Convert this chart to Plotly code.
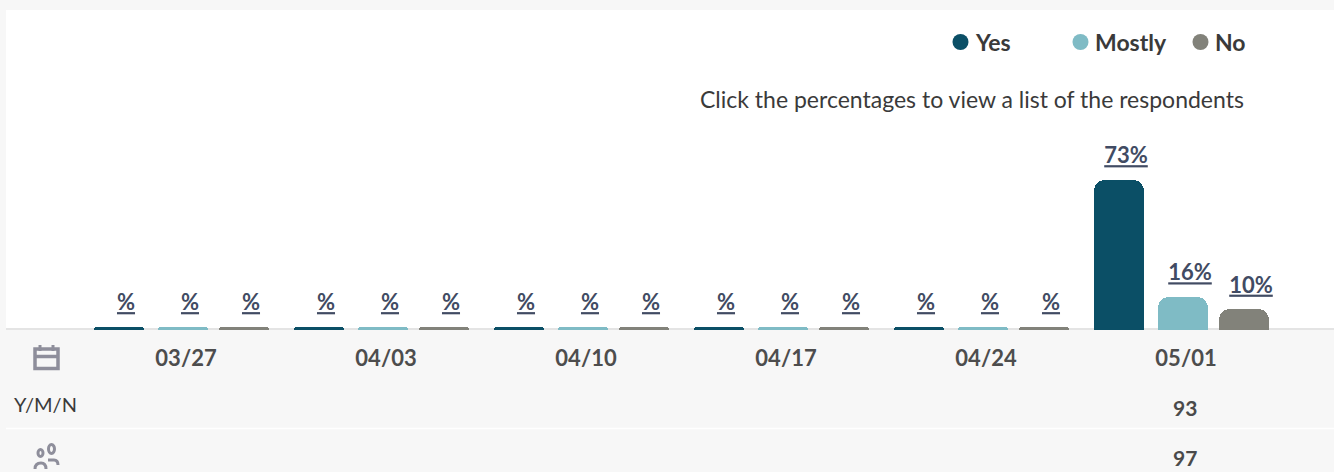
import plotly.graph_objects as go

# ---- data ----
dates = ["03/27", "04/03", "04/10", "04/17", "04/24", "05/01"]
# empty weeks render as thin stubs in the reference
yes_values = [1.5, 1.5, 1.5, 1.5, 1.5, 73]
mostly_values = [1.5, 1.5, 1.5, 1.5, 1.5, 16]
no_values = [1.5, 1.5, 1.5, 1.5, 1.5, 10]
yes_labels = ["%", "%", "%", "%", "%", "73%"]
mostly_labels = ["%", "%", "%", "%", "%", "16%"]
no_labels = ["%", "%", "%", "%", "%", "10%"]
ymn_row = ["", "", "", "", "", "93"]
resp_row = ["", "", "", "", "", "97"]
series_names = ["Yes", "Mostly", "No"]

# ---- style ----
W, H = 1334, 472
L, T, R, B = 6, 10, 1334, 330
COL = ["#0b4f66", "#7fbbc5", "#82827a"]
FONT = "Lato"
TXT = "#3a3a3a"
LINK = "#414b63"
ICON = "#8e8e9b"
bg = "#f7f7f7"


def px(x):
    return (x - L) / (R - L)


def py(y):
    return (B - y) / (B - T)


idx = list(range(len(dates)))
bar_off = [-0.46, -0.14, 0.165]
lab_off = [-0.30, 0.02, 0.325]
vals = [yes_values, mostly_values, no_values]
labs = [yes_labels, mostly_labels, no_labels]

fig = go.Figure()
for name, v, c, o in zip(series_names, vals, COL, bar_off):
    fig.add_bar(
        x=idx, y=v, width=0.25, offset=o, name=name, showlegend=False,
        marker=dict(color=c, cornerradius=11, line=dict(width=0)),
        hoverinfo="skip",
    )
for name, v, t, o in zip(series_names, vals, labs, lab_off):
    fig.add_scatter(
        x=[i + o for i in idx], y=[a + 5.5 for a in v], mode="text",
        text=[f"<u>{s}</u>" for s in t], textposition="top center",
        textfont=dict(family=FONT, size=22, color=LINK, weight=700),
        showlegend=False, cliponaxis=False, hoverinfo="skip",
    )

ann = []
for i, a, b in zip(idx, ymn_row, resp_row):
    for s, y in ((a, 407), (b, 457)):
        if s:
            ann.append(dict(x=i, xref="x", xshift=-1, y=py(y), yref="paper", text=s, showarrow=False,
                            xanchor="center", yanchor="middle",
                            font=dict(family=FONT, size=21, color="#4a4a4a", weight=700)))
ann.append(dict(x=px(12), xref="paper", y=py(404), yref="paper", text="Y/M/N", showarrow=False,
                xanchor="left", yanchor="middle", font=dict(family=FONT, size=20, color=TXT)))
ann.append(dict(x=px(1246), xref="paper", y=py(98.5), yref="paper", showarrow=False,
                text="Click the percentages to view a list of the respondents",
                xanchor="right", yanchor="middle", font=dict(family=FONT, size=23, color=TXT)))

shapes = []
# baseline under the bars
shapes.append(dict(type="line", xref="paper", yref="paper", x0=0, x1=1, y0=py(329), y1=py(329),
                   line=dict(color="#e4e4e4", width=2), layer="below"))
# legend
for name, c, cx, tx in zip(series_names, COL, [960.5, 1080.5, 1200.5], [973, 1093, 1213]):
    shapes.append(dict(type="circle", xref="paper", yref="paper", x0=px(cx - 8), x1=px(cx + 8),
                       y0=py(42 + 8), y1=py(42 - 8), fillcolor=c, line=dict(width=0), layer="above"))
    ann.append(dict(x=px(tx), xref="paper", y=py(42), yref="paper", text=name, showarrow=False,
                    xanchor="left", yanchor="middle",
                    font=dict(family=FONT, size=23, color=TXT, weight=700)))


def P(*pts):
    return " ".join(f"{px(p[0]):.5f},{py(p[1]):.5f}" for p in pts)


# separator between rows
shapes.append(dict(type="line", xref="paper", yref="paper", x0=0, x1=1, y0=py(428.5), y1=py(428.5),
                   line=dict(color="#ffffff", width=1.5), layer="above"))
# calendar icon
shapes.append(dict(type="rect", xref="paper", yref="paper", x0=px(35), x1=px(58), y0=py(368.5), y1=py(349),
                   line=dict(color=ICON, width=3.5), layer="above"))
shapes.append(dict(type="line", xref="paper", yref="paper", x0=px(35), x1=px(58), y0=py(356.5), y1=py(356.5),
                   line=dict(color=ICON, width=3.5), layer="above"))
for x in (40, 53):
    shapes.append(dict(type="line", xref="paper", yref="paper", x0=px(x), x1=px(x), y0=py(345), y1=py(351),
                       line=dict(color=ICON, width=3), layer="above"))
# people icon
for cx, cy, rx, ry in ((40.5, 453, 2.5, 3.5), (51.5, 449, 3, 4.5)):
    shapes.append(dict(type="circle", xref="paper", yref="paper", x0=px(cx - rx), x1=px(cx + rx),
                       y0=py(cy + ry), y1=py(cy - ry), line=dict(color=ICON, width=3), layer="above"))
shapes.append(dict(type="path", xref="paper", yref="paper",
                   path="M " + P((35, 469)) + " Q " + P((35, 463), (41, 463)) + " Q " + P((46, 463), (46, 469)),
                   line=dict(color=ICON, width=3), layer="above"))
shapes.append(dict(type="path", xref="paper", yref="paper",
                   path="M " + P((48, 460)) + " L " + P((54, 460)) + " Q " + P((58, 460), (58, 465)),
                   line=dict(color=ICON, width=3), layer="above"))

fig.update_layout(
    width=W, height=H, autosize=False,
    margin=dict(l=L, r=W - R, t=T, b=H - B, pad=0),
    paper_bgcolor=bg, plot_bgcolor="#ffffff",
    barmode="overlay", bargap=0, showlegend=False,
    shapes=shapes, annotations=ann,
    xaxis=dict(
        type="linear", range=[(L - 186) / 200, (R - 186) / 200],
        tickmode="array", tickvals=idx, ticktext=dates,
        tickfont=dict(family=FONT, size=22, color="#4d4d4d", weight=700),
        ticks="outside", ticklen=9, tickcolor="rgba(0,0,0,0)",
        showgrid=False, zeroline=False, showline=False,
    ),
    yaxis=dict(range=[0, 320 / 2.055], visible=False, showgrid=False, zeroline=False),
)
fig.write_html(
    "out.html",
    config=dict(displayModeBar=False),
    post_script="document.body.style.margin='0';document.documentElement.style.overflow='hidden';",
)
